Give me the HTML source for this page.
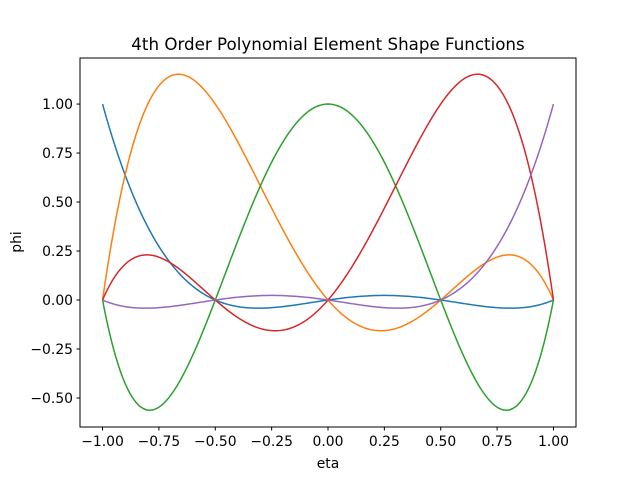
<!DOCTYPE html>
<html><head><meta charset="utf-8"><style>
html,body{margin:0;padding:0;background:#fff;}
svg{display:block;font-family:"DejaVu Sans","Liberation Sans",sans-serif;}
</style></head><body>
<svg id="chart" width="640" height="480">
<rect width="640" height="480" fill="#fff"/>
<text x="328" y="50" font-size="16.7" text-anchor="middle">4th Order Polynomial Element Shape Functions</text>
<g id="plot"></g>
<rect x="80" y="58" width="496" height="369" fill="none" stroke="#000" stroke-width="1"/>
<text x="328" y="468" font-size="13.9" text-anchor="middle">eta</text>
<text x="21" y="242" font-size="13.9" text-anchor="middle" transform="rotate(-90 21 242)">phi</text>
</svg>
<script>
// polynomial coefficients c0..c4 for each shape function
const seriesNames = ['N1','N2','N3','N4','N5'];
const coefN1 = [0, 1/6, -1/6, -2/3, 2/3];
const coefN2 = [0, -4/3, 8/3, 4/3, -8/3];
const coefN3 = [1, 0, -5, 0, 4];
const coefN4 = [0, 4/3, 8/3, -4/3, -8/3];
const coefN5 = [0, -1/6, -1/6, 2/3, 2/3];
const xTicks = [-1.0, -0.75, -0.5, -0.25, 0.0, 0.25, 0.5, 0.75, 1.0];
const xTickLabels = ['−1.00','−0.75','−0.50','−0.25','0.00','0.25','0.50','0.75','1.00'];
const yTicks = [-0.5, -0.25, 0, 0.25, 0.5, 0.75, 1.0];
const yTickLabels = ['−0.50','−0.25','0.00','0.25','0.50','0.75','1.00'];

const colors = ['#1f77b4','#ff7f0e','#2ca02c','#d62728','#9467bd'];
const allCoef = [coefN1, coefN2, coefN3, coefN4, coefN5];
const X0=80, X1=576, Y0=58, Y1=427;
const xmin=-1.1, xmax=1.1, ymin=-0.648, ymax=1.235;
function sx(v){return X0+(v-xmin)/(xmax-xmin)*(X1-X0);}
function sy(v){return Y1-(v-ymin)/(ymax-ymin)*(Y1-Y0);}
const NS='http://www.w3.org/2000/svg';
const g=document.getElementById('plot');
xTicks.forEach((t,i)=>{
  const l=document.createElementNS(NS,'line');
  l.setAttribute('x1',sx(t));l.setAttribute('x2',sx(t));l.setAttribute('y1',Y1);l.setAttribute('y2',Y1+3.5);l.setAttribute('stroke','#000');
  
  
  g.appendChild(l);
  const tx=document.createElementNS(NS,'text');
  tx.setAttribute('x',sx(t));tx.setAttribute('y',Y1+19);tx.setAttribute('font-size','13.9');tx.setAttribute('text-anchor','middle');
  tx.textContent=xTickLabels[i];
  
  
  g.appendChild(tx);
});
yTicks.forEach((t,i)=>{
  const l=document.createElementNS(NS,'line');
  l.setAttribute('x1',X0-3.5);l.setAttribute('x2',X0);l.setAttribute('y1',sy(t));l.setAttribute('y2',sy(t));l.setAttribute('stroke','#000');
  
  
  g.appendChild(l);
  const tx=document.createElementNS(NS,'text');
  tx.setAttribute('x',X0-7);tx.setAttribute('y',sy(t)+5);tx.setAttribute('font-size','13.9');tx.setAttribute('text-anchor','end');
  tx.textContent=yTickLabels[i];
  
  
  g.appendChild(tx);
});
function poly(c,x){return c[0]+c[1]*x+c[2]*x*x+c[3]*x*x*x+c[4]*x*x*x*x;}
allCoef.forEach((c,k)=>{
  let d='';
  for(let i=0;i<=200;i++){const x=-1+2*i/200;d+=(i?'L':'M')+sx(x).toFixed(2)+','+sy(poly(c,x)).toFixed(2);}
  const p=document.createElementNS(NS,'path');
  p.setAttribute('d',d);p.setAttribute('fill','none');p.setAttribute('stroke',colors[k]);p.setAttribute('stroke-width','1.5');
  
  
  g.appendChild(p);
});
</script>
</body></html>
